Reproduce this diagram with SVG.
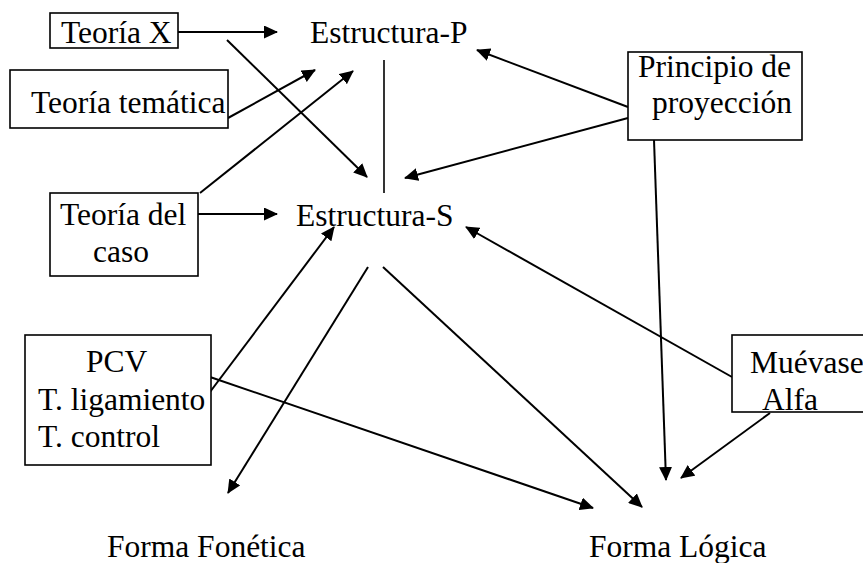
<svg xmlns="http://www.w3.org/2000/svg" width="863" height="563" viewBox="0 0 863 563">
<defs>
<marker id="ah" viewBox="0 0 14 13" markerWidth="14" markerHeight="13" refX="13" refY="6.5" orient="auto" markerUnits="userSpaceOnUse">
<path d="M0,0 L14,6.5 L0,13 z" fill="#000"/>
</marker>
</defs>
<style>
text{font-family:"Liberation Serif","Times New Roman",serif;font-size:31.5px;fill:#000}
.box{fill:#fff;stroke:#000;stroke-width:1.6}
.c line{stroke:#000;stroke-width:2;marker-end:url(#ah)}
.c line.plain{stroke-width:1.6;marker-end:none}
</style>
<rect width="863" height="563" fill="#fff"/>
<g class="c" id="connectors">
<line x1="178" y1="32" x2="277" y2="32"/>
<line x1="227" y1="40" x2="367" y2="177"/>
<line x1="228" y1="118" x2="315" y2="70"/>
<line x1="200" y1="193" x2="353" y2="71"/>
<line class="plain" x1="384" y1="60" x2="384" y2="193"/>
<line x1="628" y1="107" x2="477" y2="50"/>
<line x1="628" y1="118" x2="405" y2="178"/>
<line x1="654" y1="140" x2="666" y2="480"/>
<line x1="198" y1="214" x2="277" y2="214"/>
<line x1="210" y1="392" x2="334" y2="227"/>
<line x1="210" y1="377" x2="593" y2="508"/>
<line x1="368" y1="267" x2="228" y2="493"/>
<line x1="383" y1="267" x2="642" y2="507"/>
<line x1="732" y1="377" x2="466" y2="227"/>
<line x1="770" y1="413" x2="681" y2="478"/>
</g>
<g id="teoria-x">
<rect class="box" x="50" y="13" width="128" height="35"/>
<text x="61" y="43">Teoría X</text>
</g>
<g id="teoria-tematica">
<rect class="box" x="10" y="70" width="218" height="58"/>
<text x="31" y="113">Teoría temática</text>
</g>
<g id="estructura-p">
<text x="310" y="43">Estructura-P</text>
</g>
<g id="principio">
<rect class="box" x="628" y="52" width="174" height="88"/>
<text x="638" y="77">Principio de</text>
<text x="652" y="113">proyección</text>
</g>
<g id="teoria-caso">
<rect class="box" x="50" y="193" width="148" height="83"/>
<text x="60" y="225">Teoría del</text>
<text x="93" y="262">caso</text>
</g>
<g id="estructura-s">
<text x="296" y="226">Estructura-S</text>
</g>
<g id="pcv">
<rect class="box" x="25" y="335" width="186" height="130"/>
<text x="86" y="372">PCV</text>
<text x="38" y="410">T. ligamiento</text>
<text x="38" y="447">T. control</text>
</g>
<g id="muevase">
<rect class="box" x="732" y="335" width="140" height="77"/>
<text x="750" y="373">Muévase</text>
<text x="762" y="410">Alfa</text>
</g>
<g id="forma-fonetica">
<text x="107" y="557">Forma Fonética</text>
</g>
<g id="forma-logica">
<text x="589" y="557">Forma Lógica</text>
</g>
</svg>
